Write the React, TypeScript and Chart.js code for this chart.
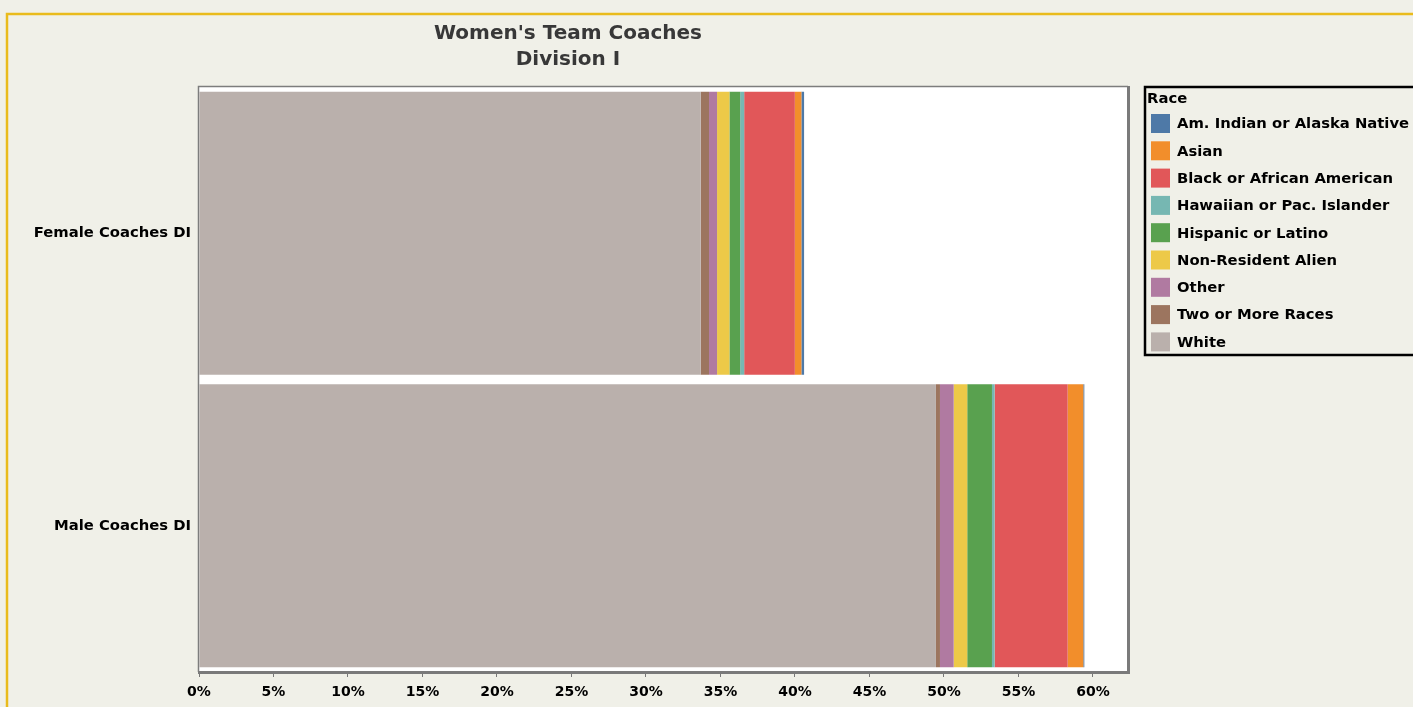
import React, { useEffect, useRef } from 'react';
import { Chart, registerables } from 'chart.js';
Chart.register(...registerables);

const categories = ['Female Coaches DI', 'Male Coaches DI'];
const white = [33.67, 49.46];
const twoOrMore = [0.56, 0.27];
const other = [0.54, 0.92];
const nonResident = [0.83, 0.91];
const hispanic = [0.72, 1.66];
const hawaiian = [0.27, 0.18];
const black = [3.4, 4.9];
const asian = [0.44, 1.05];
const amIndian = [0.18, 0.07];
const xTicks = [0, 5, 10, 15, 20, 25, 30, 35, 40, 45, 50, 55, 60];
const xMax = 62.35;
const titleLines = ["Women's Team Coaches", 'Division I'];
const legendTitle = 'Race';

const FONT = '"DejaVu Sans", "Liberation Sans", sans-serif';

const seriesDefs = [
  { label: 'White', data: white, color: '#bab0ac' },
  { label: 'Two or More Races', data: twoOrMore, color: '#9c755f' },
  { label: 'Other', data: other, color: '#b07aa1' },
  { label: 'Non-Resident Alien', data: nonResident, color: '#edc948' },
  { label: 'Hispanic or Latino', data: hispanic, color: '#59a14f' },
  { label: 'Hawaiian or Pac. Islander', data: hawaiian, color: '#76b7b2' },
  { label: 'Black or African American', data: black, color: '#e15759' },
  { label: 'Asian', data: asian, color: '#f28e2b' },
  { label: 'Am. Indian or Alaska Native', data: amIndian, color: '#4e79a7' },
];

const framePlugin = {
  id: 'frame',
  beforeDraw(chart: any) {
    const { ctx, width, height, chartArea } = chart;
    ctx.save();
    ctx.fillStyle = '#f0f0e8';
    ctx.fillRect(0, 0, width, height);
    ctx.strokeStyle = '#e9bb1c';
    ctx.lineWidth = 2.5;
    ctx.strokeRect(7, 14, width + 20, height + 20);
    ctx.fillStyle = '#ffffff';
    ctx.fillRect(chartArea.left, chartArea.top, chartArea.right - chartArea.left, chartArea.bottom - chartArea.top);
    ctx.fillStyle = '#383838';
    ctx.font = `bold 20px ${FONT}`;
    ctx.textAlign = 'center';
    ctx.textBaseline = 'middle';
    ctx.fillText(titleLines[0], 568, 34);
    ctx.fillText(titleLines[1], 568, 60);
    ctx.restore();
  },
  afterDraw(chart: any) {
    const { ctx, chartArea } = chart;
    const { left, top, right, bottom } = chartArea;
    ctx.save();
    // plot border
    ctx.strokeStyle = '#7d7d7d';
    ctx.lineWidth = 1.5;
    ctx.beginPath();
    ctx.moveTo(left - 0.5, bottom);
    ctx.lineTo(left - 0.5, top - 0.5);
    ctx.lineTo(right, top - 0.5);
    ctx.stroke();
    ctx.lineWidth = 3;
    ctx.strokeStyle = '#7a7a7a';
    ctx.beginPath();
    ctx.moveTo(right + 0.5, top - 1);
    ctx.lineTo(right + 0.5, bottom + 0.5);
    ctx.lineTo(left - 1, bottom + 0.5);
    ctx.stroke();

    // legend
    const lx = 1145;
    const ly = 87;
    ctx.strokeStyle = '#000000';
    ctx.lineWidth = 2.5;
    ctx.strokeRect(lx, ly, 300, 268);
    ctx.fillStyle = '#000000';
    ctx.font = `bold 14.8px ${FONT}`;
    ctx.textAlign = 'left';
    ctx.textBaseline = 'middle';
    ctx.fillText(legendTitle, lx + 2, ly + 12);
    const ds = chart.data.datasets.slice().reverse();
    ds.forEach((d: any, i: number) => {
      const cy = 123.5 + i * 27.3;
      ctx.fillStyle = d.backgroundColor;
      ctx.fillRect(1151, cy - 9.5, 19, 19);
      ctx.fillStyle = '#000000';
      ctx.fillText(d.label, 1177, cy + 1);
    });
    ctx.restore();
  },
};

export default function App() {
  const ref = useRef<HTMLCanvasElement>(null);
  useEffect(() => {
    if (!ref.current) return;
    const chart = new Chart(ref.current, {
      type: 'bar',
      data: {
        labels: categories,
        datasets: seriesDefs.map((s) => ({
          label: s.label,
          data: s.data,
          backgroundColor: s.color,
          borderWidth: 0,
          barPercentage: 0.968,
          categoryPercentage: 1,
        })),
      },
      options: {
        indexAxis: 'y',
        animation: false,
        responsive: false,
        maintainAspectRatio: false,
        layout: { padding: { top: 87, right: 285, left: 0, bottom: 0 } },
        plugins: {
          legend: { display: false },
          title: { display: false },
          tooltip: { enabled: false },
        },
        scales: {
          x: {
            type: 'linear',
            stacked: true,
            min: 0,
            max: xMax,
            afterFit: (s: any) => { s.height = 35; },
            afterBuildTicks: (s: any) => { s.ticks = xTicks.map((v) => ({ value: v })); },
            grid: { drawOnChartArea: false, drawTicks: true, tickLength: 5, color: '#777777', lineWidth: 1 },
            border: { display: false },
            ticks: {
              color: '#000000',
              font: { family: FONT, size: 14, weight: 'bold' },
              padding: 7,
              maxRotation: 0,
              autoSkip: false,
              callback: (v: any) => `${v}%`,
            },
          },
          y: {
            stacked: true,
            afterFit: (s: any) => { s.width = 199; },
            grid: { display: false, drawTicks: false },
            border: { display: false },
            ticks: {
              color: '#000000',
              font: { family: FONT, size: 14.8, weight: 'bold' },
              padding: 8,
            },
          },
        },
      },
      plugins: [framePlugin],
    } as any);
    return () => chart.destroy();
  }, []);
  return (
    <div style={{ position: 'fixed', left: 0, top: 0, width: 1413, height: 707 }}>
      <canvas ref={ref} width={1413} height={707} style={{ display: 'block' }} />
    </div>
  );
}
